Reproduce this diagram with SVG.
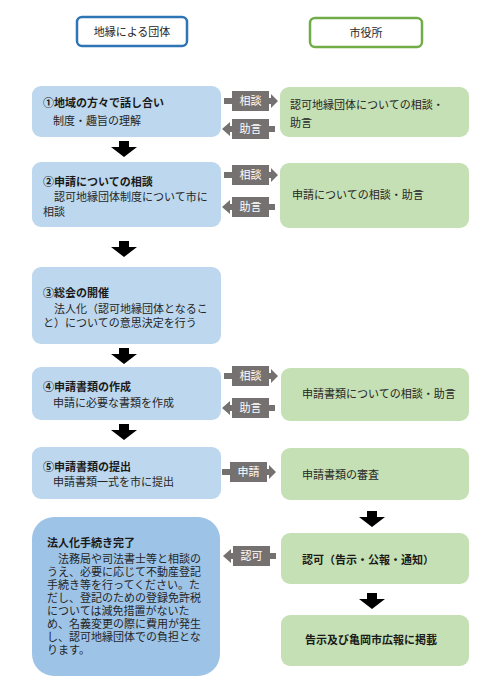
<svg xmlns="http://www.w3.org/2000/svg" xmlns:xlink="http://www.w3.org/1999/xlink" width="500" height="691" viewBox="0 0 500 691">
<style>
text{font-family:"Noto Sans CJK JP","Noto Sans",sans-serif;font-size:11px;fill:#262626}
.t{font-weight:bold;fill:#1a1a1a}
.d{font-family:"Liberation Sans","Noto Sans CJK JP",sans-serif}
.w{fill:#fff;text-anchor:middle}
.c{text-anchor:middle}
.lb{fill:#bdd7ee}
.lb2{fill:#9dc3e6}
.gr{fill:#c5e0b4}
.ga{fill:#767171}
.ba{fill:#000}
</style>
<defs>
<path id="ra" d="M-8,-3 H0 V-10 H37 V-3 H39 V-7 L46,0 L39,7 V3 H37 V10 H0 V3 H-8 Z"/>
<path id="la" d="M-10,0 L-2,-7 V-3 H0 V-10 H37 V-3 H43 V3 H37 V10 H0 V3 H-2 V7 Z"/>
<path id="da" d="M-5,0 H5 V6 H13 L0,16 L-13,6 H-5 Z"/>
</defs>
<rect width="500" height="691" fill="#fff"/>

<g id="header-left">
<rect x="77" y="17" width="110" height="29" rx="5" fill="#fff" stroke="#2e75b6" stroke-width="2.5"/>
<text class="c" x="132" y="36">地縁による団体</text>
</g>
<g id="header-right">
<rect x="310" y="18" width="112" height="29" rx="5" fill="#fff" stroke="#70ad47" stroke-width="2.5"/>
<text class="c" x="366" y="37">市役所</text>
</g>

<g id="step1">
<rect class="lb" x="32" y="86" width="189" height="51" rx="9"/>
<text class="t" x="43" y="107">①地域の方々で話し合い</text>
<text class="d" x="53" y="125">制度・趣旨の理解</text>
</g>
<g id="city1">
<rect class="gr" x="280" y="87" width="189" height="50" rx="9"/>
<text class="d" x="290" y="109">認可地縁団体についての相談・</text>
<text class="d" x="290" y="127">助言</text>
</g>

<g id="step2">
<rect class="lb" x="32" y="162" width="189" height="65" rx="9"/>
<text class="t" x="43" y="186">②申請についての相談</text>
<text class="d" x="43" y="201">　認可地縁団体制度について市に</text>
<text class="d" x="43" y="216">相談</text>
</g>
<g id="city2">
<rect class="gr" x="280" y="163" width="189" height="65" rx="9"/>
<text x="292" y="199">申請についての相談・助言</text>
</g>

<g id="step3">
<rect class="lb" x="32" y="267" width="189" height="77" rx="9"/>
<text class="t" x="43" y="297">③総会の開催</text>
<text class="d" x="43" y="313">　法人化（認可地縁団体となるこ</text>
<text class="d" x="43" y="327">と）についての意思決定を行う</text>
</g>

<g id="step4">
<rect class="lb" x="32" y="367" width="189" height="53" rx="9"/>
<text class="t" x="43" y="391">④申請書類の作成</text>
<text class="d" x="53" y="407">申請に必要な書類を作成</text>
</g>
<g id="city4">
<rect class="gr" x="281" y="368" width="188" height="53" rx="9"/>
<text x="302" y="398">申請書類についての相談・助言</text>
</g>

<g id="step5">
<rect class="lb" x="32" y="447" width="189" height="52" rx="9"/>
<text class="t" x="43" y="471">⑤申請書類の提出</text>
<text class="d" x="53" y="486">申請書類一式を市に提出</text>
</g>
<g id="city5">
<rect class="gr" x="281" y="448" width="188" height="52" rx="9"/>
<text x="302" y="479">申請書類の審査</text>
</g>

<g id="complete">
<rect class="lb2" x="32" y="517" width="188" height="159" rx="22"/>
<text class="t" x="47" y="547">法人化手続き完了</text>
<text class="d" x="47" y="563">　法務局や司法書士等と相談の</text>
<text class="d" x="47" y="576">うえ、必要に応じて不動産登記</text>
<text class="d" x="47" y="589">手続き等を行ってください。た</text>
<text class="d" x="47" y="602">だし、登記のための登録免許税</text>
<text class="d" x="47" y="615">については減免措置がないた</text>
<text class="d" x="47" y="628">め、名義変更の際に費用が発生</text>
<text class="d" x="47" y="641">し、認可地縁団体での負担とな</text>
<text class="d" x="47" y="654">ります。</text>
</g>
<g id="approval">
<rect class="gr" x="281" y="533" width="188" height="51" rx="9"/>
<text class="t" x="302" y="564">認可（告示・公報・通知）</text>
</g>
<g id="publish">
<rect class="gr" x="281" y="615" width="188" height="51" rx="9"/>
<text class="t" x="305" y="644">告示及び亀岡市広報に掲載</text>
</g>

<g id="connectors">
<use xlink:href="#da" class="ba" transform="translate(124,141)"/>
<use xlink:href="#da" class="ba" transform="translate(124,241)"/>
<use xlink:href="#da" class="ba" transform="translate(124,348)"/>
<use xlink:href="#da" class="ba" transform="translate(124,424)"/>
<use xlink:href="#da" class="ba" transform="translate(372,511)"/>
<use xlink:href="#da" class="ba" transform="translate(372,593)"/>

<use xlink:href="#ra" class="ga" transform="translate(232,101)"/>
<text class="w" x="250.5" y="105">相談</text>
<use xlink:href="#la" class="ga" transform="translate(232,129)"/>
<text class="w" x="250.5" y="133">助言</text>

<use xlink:href="#ra" class="ga" transform="translate(232,175)"/>
<text class="w" x="250.5" y="179">相談</text>
<use xlink:href="#la" class="ga" transform="translate(232,207)"/>
<text class="w" x="250.5" y="211">助言</text>

<use xlink:href="#ra" class="ga" transform="translate(232,376)"/>
<text class="w" x="250.5" y="380">相談</text>
<use xlink:href="#la" class="ga" transform="translate(232,408)"/>
<text class="w" x="250.5" y="412">助言</text>

<use xlink:href="#ra" class="ga" transform="translate(230,472)"/>
<text class="w" x="248.5" y="476">申請</text>

<use xlink:href="#la" class="ga" transform="translate(233,556)"/>
<text class="w" x="251.5" y="560">認可</text>
</g>
</svg>
